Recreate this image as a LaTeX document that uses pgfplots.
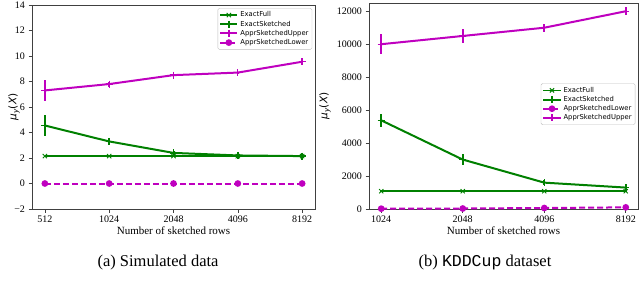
\documentclass[border=0pt]{standalone}
\usepackage{fontspec}
\setmainfont{Liberation Serif}
\setmonofont{Liberation Mono}
\newfontfamily\dejavu{DejaVu Sans}
\usepackage{graphicx}
\usepackage{pgfplots}
\pgfplotsset{compat=1.18}
\definecolor{mgreen}{RGB}{0,128,0}
\definecolor{mmag}{RGB}{191,0,191}
\begin{document}
\begin{tikzpicture}
\useasboundingbox (0pt,0pt) rectangle (640pt,282pt);
\pgfplotsset{
  common/.style={
    scale only axis,
    axis line style={black!75, line width=0.7pt},
    tick align=outside,
    major tick length=3.5pt,
    xtick pos=bottom, ytick pos=left,
    tick style={black!75, line width=0.6pt},
    tick label style={font=\fontsize{10}{12}\selectfont},
    /pgf/number format/assume math mode=true,
    /pgf/number format/1000 sep={},
    scaled ticks=false,
    xlabel={Number of sketched rows},
    every axis x label/.style={at={(rel axis cs:0.5,0)}, anchor=center, yshift=-22pt, font=\fontsize{11}{13}\selectfont},
    ylabel={\rotatebox{90}{\dejavu{\itshape μ}\textsubscript{\itshape y}(\textit{X})}},
    legend cell align=left,
    legend style={font=\dejavu\fontsize{6.8}{8}\selectfont, draw=black!25, rounded corners=1.5pt, fill=white, inner sep=1.5pt, row sep=-1.5pt},
    every axis plot/.append style={line width=2pt},
    error bars/y dir=both, error bars/y explicit,
    error bars/error mark=none,
    error bars/error bar style={line width=2pt, solid},
  },
  efull/.style={color=mgreen, line width=1.7pt, mark=x, mark size=3pt, mark options={line width=0.9pt}},
  esk/.style={color=mgreen, mark=+, mark size=3.5pt, mark options={line width=1.5pt}},
  aup/.style={color=mmag, mark=+, mark size=3.5pt, mark options={line width=1.3pt}},
  alow/.style={color=mmag, dashed, dash pattern=on 6pt off 3pt, mark=*, mark size=2.3pt, mark options={solid}},
}
\begin{axis}[common, at={(32pt,73pt)}, anchor=south west, width=283pt, height=204pt,
  every axis y label/.style={at={(rel axis cs:0,0.5)}, anchor=center, xshift=-18pt, font=\fontsize{10.5}{12}\selectfont},
  xmin=-0.2, xmax=4.2, xtick={0,1,2,3,4}, xticklabels={512,1024,2048,4096,8192},
  ymin=-2, ymax=14, ytick={-2,0,2,4,6,8,10,12,14},
  yticklabels={−2,0,2,4,6,8,10,12,14},
  legend style={at={(rel axis cs:0.99,0.985)}, anchor=north east}]
\addplot+[efull] coordinates {(0,2.15) +- (0,0.03) (1,2.15) +- (0,0.03) (2,2.15) +- (0,0.03) (3,2.15) +- (0,0.03) (4,2.15) +- (0,0.03)};
\addlegendentry{ExactFull}
\addplot+[esk] coordinates {(0,4.55) +- (0,0.8) (1,3.3) +- (0,0.15) (2,2.4) +- (0,0.15) (3,2.2) +- (0,0.08) (4,2.15) +- (0,0.05)};
\addlegendentry{ExactSketched}
\addplot+[aup] coordinates {(0,7.3) +- (0,0.8) (1,7.8) +- (0,0.2) (2,8.5) +- (0,0.08) (3,8.7) +- (0,0.08) (4,9.55) +- (0,0.08)};
\addlegendentry{ApprSketchedUpper}
\addplot+[alow] coordinates {(0,0) +- (0,0.02) (1,0) +- (0,0.02) (2,0) +- (0,0.02) (3,0) +- (0,0.02) (4,0) +- (0,0.02)};
\addlegendentry{ApprSketchedLower}
\end{axis}
\begin{axis}[common, at={(369pt,73pt)}, anchor=south west, width=269pt, height=206pt,
  every axis y label/.style={at={(rel axis cs:0,0.5)}, anchor=center, xshift=-44pt, font=\fontsize{10.5}{12}\selectfont},
  xmin=-0.15, xmax=3.15, xtick={0,1,2,3}, xticklabels={1024,2048,4096,8192},
  ymin=0, ymax=12500, ytick={0,2000,4000,6000,8000,10000,12000},
  legend style={at={(rel axis cs:0.99,0.61)}, anchor=north east}]
\addplot+[efull] coordinates {(0,1080) +- (0,20) (1,1080) +- (0,20) (2,1080) +- (0,20) (3,1080) +- (0,20)};
\addlegendentry{ExactFull}
\addplot+[esk] coordinates {(0,5380) +- (0,400) (1,3000) +- (0,350) (2,1600) +- (0,150) (3,1300) +- (0,100)};
\addlegendentry{ExactSketched}
\addplot+[alow] coordinates {(0,20) +- (0,10) (1,30) +- (0,10) (2,60) +- (0,15) (3,100) +- (0,30)};
\addlegendentry{ApprSketchedLower}
\addplot+[aup] coordinates {(0,10000) +- (0,600) (1,10500) +- (0,400) (2,11000) +- (0,250) (3,12000) +- (0,250)};
\addlegendentry{ApprSketchedUpper}
\end{axis}
\node at (158pt,19pt) {\fontsize{16.5}{18}\selectfont (a) Simulated data};
\node at (485pt,19pt) {\fontsize{16.5}{18}\selectfont (b) {\ttfamily KDDCup} dataset};
\end{tikzpicture}
\end{document}
